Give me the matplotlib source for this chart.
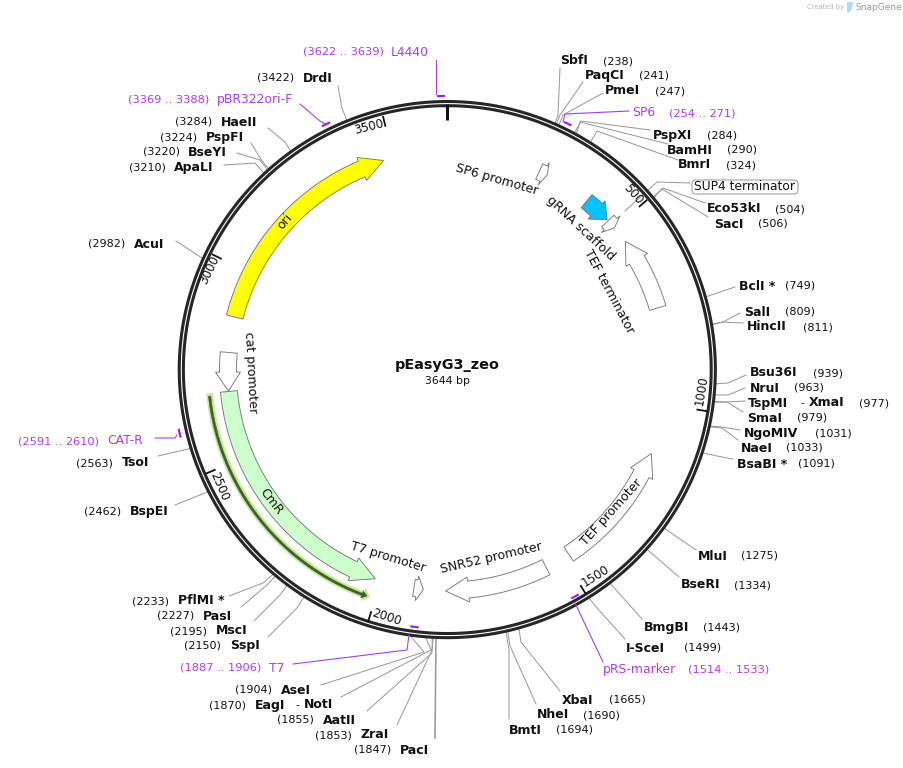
import numpy as np
import matplotlib
matplotlib.use("Agg")
import matplotlib.pyplot as plt
from matplotlib.patches import Polygon, FancyBboxPatch

# ---- data -------------------------------------------------------------
plasmid_name = "pEasyG3_zeo"
plasmid_length = 3644

enzyme_names = ["SbfI", "PaqCI", "PmeI", "PspXI", "BamHI", "BmrI", "Eco53kI", "SacI", "BclI *", "SalI",
                "HincII", "Bsu36I", "NruI", "TspMI", "SmaI", "NgoMIV", "NaeI", "BsaBI *", "MluI", "BseRI",
                "BmgBI", "I-SceI", "XbaI", "NheI", "BmtI",
                "SspI", "MscI", "PasI", "PflMI *", "AseI", "EagI", "AatII", "ZraI", "PacI", "TsoI",
                "BspEI", "AcuI", "ApaLI", "BseYI", "PspFI", "HaeII", "DrdI"]
enzyme_sites = [238, 241, 247, 284, 290, 324, 504, 506, 749, 809,
                811, 939, 963, 977, 979, 1031, 1033, 1091, 1275, 1334,
                1443, 1499, 1665, 1690, 1694,
                2150, 2195, 2227, 2233, 1904, 1870, 1855, 1853, 1847, 2563,
                2462, 2982, 3210, 3220, 3224, 3284, 3422]
second_names = {"TspMI": ("XmaI", 800, 809), "EagI": ("NotI", 295, 304)}

feature_names = ["ori", "cat promoter", "CmR", "T7 promoter", "SNR52 promoter", "TEF promoter",
                 "TEF terminator", "gRNA scaffold", "SUP4 terminator", "SP6 promoter"]
feature_tail = [2877, 2782, 2679, 1911, 1552, 1483, 742, 398, 475, 250]
feature_neck = [3411, 2730, 2079, 1903, 1767, 1193, 603, 433, 486, 263]
feature_tip = [3473, 2680, 2016, 1886, 1827, 1134, 546, 471, 500, 273]
orf_tail, orf_neck, orf_tip = 2672, 2030, 2021

primer_names = ["L4440", "pBR322ori-F", "SP6", "pRS-marker", "T7", "CAT-R"]
primer_start = [3622, 3369, 254, 1514, 1887, 2591]
primer_end = [3639, 3388, 271, 1533, 1906, 2610]
tick_values = [500, 1000, 1500, 2000, 2500, 3000, 3500]

# ---- layout -----------------------------------------------------------
W, H = 904, 768
CX, CY = 447.5, 371.0
RING_CX, RING_CY, RING_R = 447.3, 369.6, 266.0
PX = 0.72
GRAY = "#999999"
PURPLE = "#ad33f5"
INK = "#111111"

# name x, y, number x, elbow (or None), leader end
enzyme_layout = [
    (560, 61, 603, (558, 115), (560, 68)), (585, 76, 639, (560, 115), (583, 82)),
    (605, 91, 655, (563, 115), (603, 93)), (653, 135, 707, (581, 121), (650, 130)),
    (667, 150, 727, (580, 122), (668, 144)), (678, 165, 726, (597, 131), (678, 160)),
    (707, 209, 775, (663, 188), (705, 203)), (714, 224, 758, (662, 189), (708, 217)),
    (739, 286, 785, None, (735, 287)), (744, 312, 785, (723, 322), (740, 313)),
    (747, 327, 803, (723, 322), (743, 323)), (750, 373, 813, (728, 383), (746, 375)),
    (750, 388, 794, (728, 395), (745, 388)), (748, 403, 859, (727, 402), (745, 401)),
    (747, 418, 797, (727, 402), (743, 412)), (744, 433, 815, (722, 427), (740, 430)),
    (741, 448, 786, (722, 428), (738, 440)), (737, 464, 798, (717, 456), (733, 459)),
    (698, 556, 741, None, (696, 550)), (681, 585, 734, None, (679, 577)),
    (644, 628, 703, None, (642, 619)), (626, 648, 684, (597, 608), (625, 639)),
    (562, 700, 609, (521, 642), (560, 691)), (537, 715, 583, (510, 646), (536, 704)),
    (509, 730, 556, (509, 650), (509, 719)),
    (230, 646, 184, (297, 608), (268, 637)), (216, 631, 170, (280, 595), (254, 621)),
    (203, 616, 157, (267, 585), (241, 607)), (178, 601, 132, (263, 583), (229, 596)),
    (281, 690, 235, (424, 652), (321, 685)), (255, 705, 209, (431, 650), (341, 697)),
    (323, 720, 277, (432, 653), (367, 711)), (361, 735, 315, (432, 650), (397, 725)),
    (400, 750, 354, None, (435, 738)), (122, 463, 76, None, (158, 456)),
    (130, 512, 84, None, (175, 505)), (134, 244, 88, None, (176, 241)),
    (174, 167, 129, (255, 163), (224, 165)), (188, 152, 143, (260, 160), (237, 153)),
    (206, 137, 160, (262, 161), (251, 143)), (221, 122, 175, (285, 142), (268, 128)),
    (303, 78, 257, (342, 108), (338, 86)),
]
# label centre x, y, rotation
feature_labels = [(285, 222, 50), (251, 372, -87), (271, 502, -52), (388, 557, -17),
                  (491, 558, 13), (611, 512, 48), (609, 291, -62), (581, 228, -43),
                  None, (497, 180, -16)]
feature_colors = ["#ffff00", "white", "#ccffcc", "white", "white", "white", "white", "#00c3ff", "white", "white"]
# radius, leader points, name x, range x, y
primer_layout = [
    (275, [(436, 94), (436, 60)], 391, 303, 52),
    (275, [(325, 124), (320, 121), (300, 104)], 217, 128, 100),
    (275, [(563, 122), (565, 114), (629, 111)], 632, 669, 113),
    (259, [(575, 603), (603, 662)], 603, 688, 670),
    (258, [(409, 635), (407, 650), (293, 664)], 269, 180, 668),
    (275, [(177, 435), (175, 438), (155, 438)], 107, 18, 441),
]
tick_label_layout = [(633.5, 194.5, -49), (702, 391, 81), (596, 576, 32), (387, 617.5, -18),
                     (219.5, 486, -67), (210, 270, 64), (368.5, 127, 14)]

plt.rcParams["font.family"] = ["DejaVu Sans"]
fig = plt.figure(figsize=(W / 100, H / 100), dpi=100, facecolor="white")
ax = fig.add_axes([0, 0, 1, 1])
ax.set_xlim(0, W)
ax.set_ylim(H, 0)
ax.axis("off")


def bp2ang(bp):
    return np.asarray(bp, float) * 2 * np.pi / plasmid_length


def pol(bp, r):
    a = bp2ang(bp)
    return CX + r * np.sin(a), CY - r * np.cos(a)


def arrow(tail, neck, tip, r_in, r_out, h_in, h_out, r_tip, **kw):
    bps = np.linspace(tail, neck, 80)
    xo, yo = pol(bps, r_out)
    xi, yi = pol(bps[::-1], r_in)
    pts = list(zip(xo, yo))
    pts.append(pol(neck, h_out))
    pts.append(pol(tip, r_tip))
    pts.append(pol(neck, h_in))
    pts += list(zip(xi, yi))
    ax.add_patch(Polygon(pts, closed=True, **kw))


# backbone ring
ring = bp2ang(np.linspace(0, plasmid_length, 721))
rx = RING_CX + RING_R * np.sin(ring)
ry = RING_CY - RING_R * np.cos(ring)
ax.plot(rx, ry, color="#262626", lw=7.2 * PX, zorder=3)
ax.plot(rx, ry, color="white", lw=1.1 * PX, zorder=4)

# ticks
x0, y0 = pol(0, 267)
x1, y1 = pol(0, 251)
ax.plot([x0, x1], [y0, y1], color="#111111", lw=3 * PX, solid_capstyle="butt", zorder=5)
for v, (lx, ly, rot) in zip(tick_values, tick_label_layout):
    xa, ya = pol(v, 263)
    xb, yb = pol(v, 252)
    ax.plot([xa, xb], [ya, yb], color="#111111", lw=1.8 * PX, solid_capstyle="butt", zorder=5)
    ax.text(lx, ly, str(v), rotation=rot, rotation_mode="anchor", ha="center", va="center",
            fontsize=8.6, color=INK, zorder=8)

# features
for n, t, nk, tp, col in zip(feature_names, feature_tail, feature_neck, feature_tip, feature_colors):
    arrow(t, nk, tp, 211, 228, 207, 232, 220, facecolor=col, edgecolor="#777777", lw=0.9 * PX, zorder=6)

# ORF under CmR
arrow(orf_tail + 6, orf_neck, orf_tip - 6, 236, 242, 233, 245, 239, facecolor="#bff08f", edgecolor="#bff08f", lw=0.5, zorder=5)
arrow(orf_tail, orf_neck + 4, orf_tip, 238, 240.4, 235.5, 243, 239, facecolor="#465a33", edgecolor="#465a33", lw=0.3, zorder=6)

# feature labels
for n, lab in zip(feature_names, feature_labels):
    if lab is None:
        continue
    ax.text(lab[0], lab[1], n, rotation=lab[2], rotation_mode="anchor", ha="center", va="center",
            fontsize=9, color=INK, zorder=8)

# SUP4 terminator callout
ax.plot([625, 657, 690], [211, 182, 183], color=GRAY, lw=PX, zorder=2)
ax.add_patch(FancyBboxPatch((694, 182), 102, 10, boxstyle="round,pad=2,rounding_size=4",
                            facecolor="white", edgecolor="#999999", lw=PX, zorder=7))
ax.text(745, 187, "SUP4 terminator", ha="center", va="center", fontsize=8.8, color=INK, zorder=8)

# restriction sites
for name, site, (nx, ny, numx, elbow, end) in zip(enzyme_names, enzyme_sites, enzyme_layout):
    sx, sy = pol(site, 267)
    xs, ys = [sx], [sy]
    if elbow is not None:
        xs.append(elbow[0])
        ys.append(elbow[1])
    xs.append(end[0])
    ys.append(end[1])
    lw = 1.6 * PX if name == "PacI" else PX
    ax.plot(xs, ys, color=GRAY, lw=lw, zorder=2)
    ax.text(nx, ny, name, ha="left", va="center", fontsize=9, fontweight="bold", color=INK, zorder=8)
    ax.text(numx, ny, f"({site})", ha="left", va="center", fontsize=8, color=INK, zorder=8)
    if name in second_names:
        other, dash_x, other_x = second_names[name]
        ax.text(dash_x, ny, "-", ha="left", va="center", fontsize=8, color=INK, zorder=8)
        ax.text(other_x, ny, other, ha="left", va="center", fontsize=9, fontweight="bold", color=INK, zorder=8)

# primers
for name, a, b, (r, leader, nx, rx_, ly) in zip(primer_names, primer_start, primer_end, primer_layout):
    bps = np.linspace(a, b, 8)
    px_, py_ = pol(bps, r)
    ax.plot(px_, py_, color="#a020f0", lw=2.2 * PX, solid_capstyle="butt", zorder=6)
    ax.plot([p[0] for p in leader], [p[1] for p in leader], color="#a63cf0", lw=1.1 * PX, zorder=5)
    ax.text(nx, ly, name, ha="left", va="center", fontsize=8.9, color="#b038f5", zorder=8)
    ax.text(rx_, ly, f"({a} .. {b})", ha="left", va="center", fontsize=8.2, color="#b038f5", zorder=8)

# centre title
ax.text(447.5, 365, plasmid_name, ha="center", va="center", fontsize=10.4, fontweight="bold", color=INK, zorder=8)
ax.text(447.5, 380.5, f"{plasmid_length} bp", ha="center", va="center", fontsize=7.8, color=INK, zorder=8)

# watermark
ax.text(807, 7.5, "Created by", ha="left", va="center", fontsize=4.9, color="#b5b5b5")
ax.add_patch(Polygon([(847, 2), (853, 2), (852, 9), (849, 13), (847, 12)], closed=True,
                     facecolor="#a9dcf5", edgecolor="none"))
ax.text(855, 7.5, "SnapGene", ha="left", va="center", fontsize=6.5, color="#9a9a9a")

fig.savefig("out.png", dpi=100, facecolor="white")
